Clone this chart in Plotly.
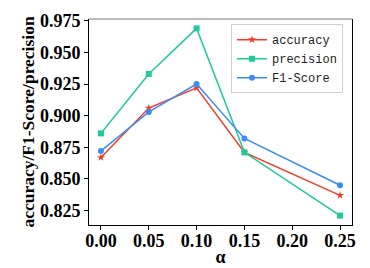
import plotly.graph_objects as go

alpha = [0.00, 0.05, 0.10, 0.15, 0.25]
accuracy = [0.867, 0.906, 0.922, 0.871, 0.837]
precision = [0.886, 0.933, 0.969, 0.871, 0.821]
f1_score = [0.872, 0.903, 0.925, 0.882, 0.845]
x_ticks = [0.00, 0.05, 0.10, 0.15, 0.20, 0.25]
x_tick_labels = ["0.00", "0.05", "0.10", "0.15", "0.20", "0.25"]
y_ticks = [0.825, 0.850, 0.875, 0.900, 0.925, 0.950, 0.975]
y_tick_labels = ["0.825", "0.850", "0.875", "0.900", "0.925", "0.950", "0.975"]

RED = "#f03c28"
TEAL = "#1ec99a"
BLUE = "#3c8cf5"

fig = go.Figure()
fig.add_trace(go.Scatter(x=alpha, y=accuracy, name="accuracy", mode="lines+markers",
                         line=dict(color=RED, width=1.5),
                         marker=dict(symbol="star", size=6, color=RED)))
fig.add_trace(go.Scatter(x=alpha, y=precision, name="precision", mode="lines+markers",
                         line=dict(color=TEAL, width=1.5),
                         marker=dict(symbol="square", size=6, color=TEAL)))
fig.add_trace(go.Scatter(x=alpha, y=f1_score, name="F1-Score", mode="lines+markers",
                         line=dict(color=BLUE, width=1.5),
                         marker=dict(symbol="circle", size=6, color=BLUE)))

serif = "Liberation Serif"
fig.update_layout(
    width=370, height=268,
    margin=dict(l=89, r=18, t=19, b=43),
    paper_bgcolor="white", plot_bgcolor="white",
    showlegend=True,
    legend=dict(x=0.54, y=0.975, xanchor="left", yanchor="top",
                bgcolor="white", bordercolor="#d0d0d0", borderwidth=1,
                font=dict(family="Liberation Mono", size=12, color="#222"),
                tracegroupgap=0, itemwidth=30),
    xaxis=dict(range=[-0.0125, 0.2625], tickvals=x_ticks, ticktext=x_tick_labels,
               automargin=False,
               showgrid=False, zeroline=False, showline=True, linecolor="black",
               linewidth=1, mirror=False, ticks="outside", ticklen=4, tickcolor="black",
               ticklabelstandoff=-5,
               tickfont=dict(family=serif, size=18, color="black", weight="bold"),
               title=dict(text="α", font=dict(family=serif, size=18, color="black", weight="bold"),
                          standoff=0)),
    yaxis=dict(range=[0.8136, 0.9764], tickvals=y_ticks, ticktext=y_tick_labels,
               automargin=False,
               showgrid=False, zeroline=False, showline=True, linecolor="black",
               linewidth=1, mirror=True, ticks="outside", ticklen=4, tickcolor="black",
               tickfont=dict(family=serif, size=18, color="black", weight="bold"),
               title=dict(text="accuracy/F1-Score/precision",
                          font=dict(family=serif, size=17.5, color="black", weight="bold"),
                          standoff=0)),
)
fig.add_shape(type="line", xref="paper", yref="paper", x0=0, x1=1, y0=1, y1=1,
              line=dict(color="#777777", width=1))
fig.write_html("out.html", config={"displayModeBar": False},
               post_script="document.body.style.margin='0';")
